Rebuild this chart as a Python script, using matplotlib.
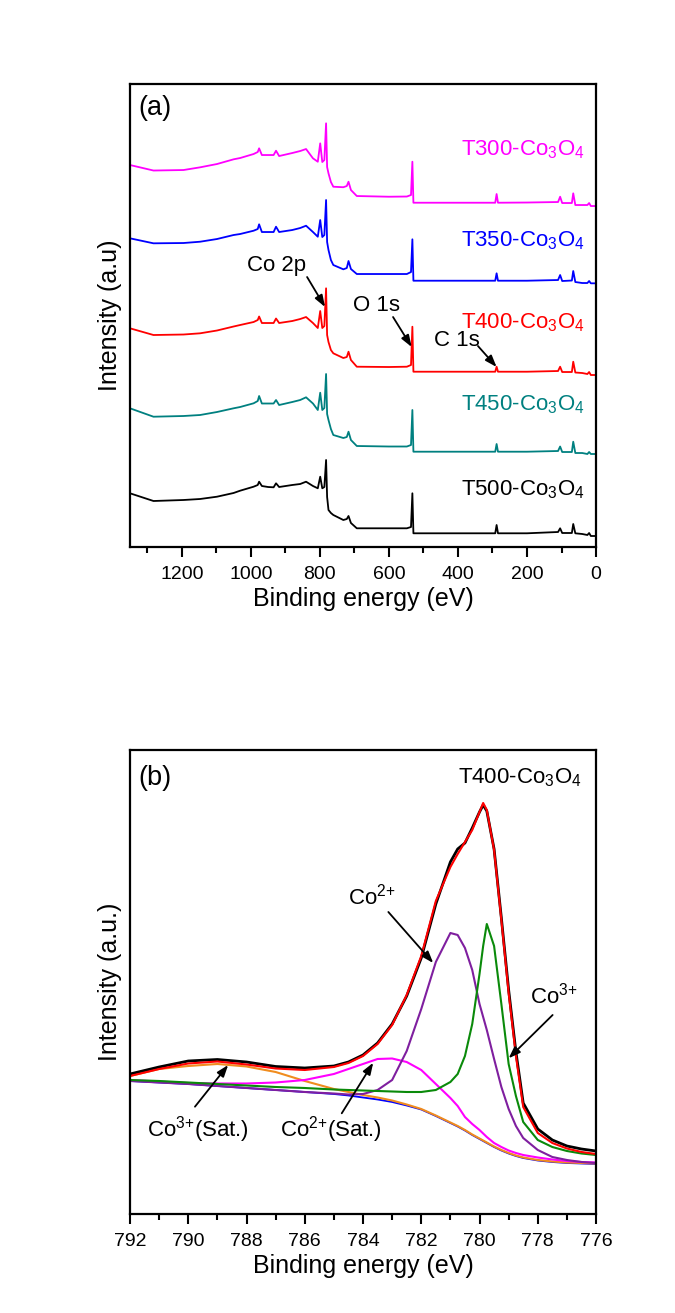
import numpy as np
import matplotlib
matplotlib.use('Agg')
import matplotlib.pyplot as plt
from matplotlib.ticker import MultipleLocator

plt.rcParams['font.family'] = ['Liberation Sans', 'DejaVu Sans']
plt.rcParams['mathtext.fontset'] = 'custom'
plt.rcParams['mathtext.rm'] = 'Liberation Sans'
plt.rcParams['mathtext.it'] = 'Liberation Sans:italic'
plt.rcParams['mathtext.bf'] = 'Liberation Sans:bold'

# ---- (a) survey spectra, binding energy (eV) and intensity (offset, a.u.)
survey_be = [1350, 1282, 1195, 1147, 1098, 1050, 1031, 992, 980, 976, 968, 950, 934, 927, 918,
             880, 857, 840, 820, 806, 799, 793, 787, 782, 779, 775, 768, 761, 732, 722, 717,
             710, 693, 600, 548, 536, 532, 529, 400, 292, 288, 284, 200, 110, 104, 98, 70, 66,
             60, 40, 25, 20, 15, 0]
t300 = [382, 376.5, 377, 379.7, 383, 387.7, 389, 393, 395, 398.7, 392, 392, 392, 396.3, 391,
        394, 396, 398, 388.7, 385.3, 403.7, 385, 387, 423.7, 380, 373.7, 365, 360.3, 359.8, 361,
        365.3, 357, 351, 350.3, 350.5, 352, 385.3, 344.3, 344.3, 344.3, 353, 344.3, 344.5, 345,
        350.3, 344, 344, 353.7, 342, 342, 342, 344, 341, 341]
t350 = [308.7, 303.7, 304, 305.3, 308, 312, 313, 316.3, 318, 322.7, 315, 315, 315, 320.3, 315,
        317, 319, 321.3, 315, 310.3, 327, 310, 312, 347, 305, 297, 287, 282, 277.7, 279,
        286, 278, 273, 273, 273, 275, 307.7, 266.3, 266.3, 266.3, 273.7, 266.3, 266.3, 267,
        272, 266, 266.5, 276, 265, 264, 264, 266, 263.7, 263.7]
t400 = [218.7, 212, 212.5, 213.7, 216.5, 220.5, 222, 225, 227, 230.5, 224, 224, 224, 228.5, 224,
        226, 228, 230, 224, 219, 236, 219, 221, 258.7, 212, 205, 197, 193.7, 189, 190,
        195.3, 187, 180.3, 180, 180.3, 182, 220.3, 175.3, 175.3, 175.3, 180.3, 175.3, 175.3, 176,
        180.3, 175, 175, 185.3, 174.5, 174, 173, 175, 172, 172]
t450 = [138.7, 130.3, 131, 132, 135, 138.7, 140, 143.7, 146, 151, 143.5, 143.5, 143.5, 147, 142,
        145, 147, 149.7, 143.5, 137, 154.3, 137, 139, 173, 133, 127, 118, 112, 109, 110,
        115.3, 107, 101, 100.5, 100.5, 102, 137, 95.3, 95.3, 95.3, 103, 95.3, 95.3, 96,
        100.5, 95, 95, 105.3, 94, 94, 93, 95, 93, 93]
t500 = [53.7, 46, 47, 48, 50.3, 54, 56.3, 60.3, 62, 65.3, 61, 60, 59.7, 63.7, 60,
        62, 63, 65.3, 61, 58.7, 70.3, 58.7, 60, 87, 50, 37, 34, 32, 27, 28,
        31, 24, 18.7, 18.7, 18.7, 20, 53.7, 13.7, 13.7, 13.7, 22, 13.7, 13.7, 15,
        18.7, 14, 14, 23, 13.7, 13, 12, 14, 11, 11]
survey_names = ['T300-Co$_3$O$_4$', 'T350-Co$_3$O$_4$', 'T400-Co$_3$O$_4$',
                'T450-Co$_3$O$_4$', 'T500-Co$_3$O$_4$']
survey_label_y = [392, 301, 219, 137, 52]

# ---- (b) Co 2p3/2 fit of T400
co2p_be = [792, 791, 790, 789, 788, 787, 786, 785, 784.5, 784, 783.5, 783, 782.5, 782, 781.5,
           781, 780.75, 780.5, 780.25, 780, 779.875, 779.75, 779.5, 779.25, 779, 778.75,
           778.5, 778, 777.5, 777, 776.5, 776]
co2p_raw = [140, 147, 153, 154.5, 152, 147.5, 146, 148, 152, 159, 171, 190, 218, 256, 310,
            352, 365, 371, 386, 402, 409, 403, 365, 296, 224, 162, 111, 85, 74, 68, 65, 63]
co2p_fit = [138, 145, 150.5, 152.5, 149.5, 145.5, 144, 147, 151, 158, 170, 189, 219, 258, 313,
            347, 360, 372, 384, 402, 411, 404, 364, 294, 221, 158, 107, 81, 71, 65.5, 62, 60]
co2p_co2 = [133, 131.5, 130, 128, 126, 124, 122, 120.5, 119.5, 120, 124, 134, 163, 205, 252,
            281, 279, 266, 244, 210, 197, 184, 155, 127, 105, 88, 76, 64, 57, 54, 52, 51]
co2p_co3 = [134, 133, 131.5, 130, 128.5, 127, 126, 124.5, 124, 123.5, 123, 122.5, 122, 122, 124,
            132, 140, 158, 190, 240, 268, 290, 268, 210, 150, 118, 92, 74, 67, 63, 60.5, 59]
co2p_sat2 = [134, 132.5, 131, 130.5, 130.5, 131.5, 134, 140, 145, 150, 155, 155.5, 152, 144, 130,
             116, 108, 97, 90, 84, 80.5, 77, 71, 67, 63.5, 61, 59, 56.5, 54.5, 53, 52, 51.5]
co2p_sat3 = [138, 145, 148, 150, 147.5, 142, 133, 125, 122, 119, 116.5, 113.5, 109.5, 105, 98.5,
             91.5, 88, 84, 79.5, 75.5, 73.5, 71.5, 67.5, 64, 61, 58.5, 56.5, 54, 52.5, 51.5, 51, 50.5]
co2p_bg = [133, 131.5, 130, 128, 126, 124, 122, 120, 118.5, 116.5, 114.5, 112, 108.5, 104.5, 98,
           91, 87.5, 83.5, 79, 75, 73, 71, 67, 63.5, 60.5, 58, 56, 53.5, 52, 51, 50.5, 50]

arrow = dict(arrowstyle='-|>,head_length=0.7,head_width=0.25', color='k', lw=1.3,
             shrinkA=0, shrinkB=0)


def style_axes(ax, major, minor):
    for s in ax.spines.values():
        s.set_linewidth(1.6)
    ax.xaxis.set_major_locator(MultipleLocator(major))
    ax.xaxis.set_minor_locator(MultipleLocator(minor))
    ax.tick_params(axis='x', which='major', direction='out', length=7.2, width=1.5,
                   labelsize=14, pad=6.2)
    ax.tick_params(axis='x', which='minor', direction='out', length=4.2, width=1.5)
    ax.set_yticks([])


fig = plt.figure(figsize=(6.75, 13.13), dpi=100)

# panel (a)
ax1 = fig.add_axes([0.1926, 0.5834, 0.6904, 0.3526])
colors_a = ['#FF00FF', '#0000FF', '#FF0000', '#008080', '#000000']
for yv, c in zip([t300, t350, t400, t450, t500], colors_a):
    ax1.plot(survey_be, yv, color=c, lw=1.3)
for name, yl, c in zip(survey_names, survey_label_y, colors_a):
    ax1.text(32, yl, name, color=c, fontsize=16, ha='right', va='baseline')
ax1.set_xlim(1350, 0)
ax1.set_ylim(0, 463)
style_axes(ax1, 200, 100)
ax1.set_xlabel('Binding energy (eV)', fontsize=18, labelpad=3)
ax1.set_ylabel('Intensity (a.u)', fontsize=18, labelpad=6)
ax1.text(0.017, 0.948, '(a)', transform=ax1.transAxes, fontsize=19.5, va='center')
ax1.text(924, 282, 'Co 2p', fontsize=16, ha='center', va='center')
ax1.annotate('', xy=(785, 240), xytext=(837, 270), arrowprops=arrow)
ax1.text(637, 242, 'O 1s', fontsize=16, ha='center', va='center')
ax1.annotate('', xy=(534, 200), xytext=(588, 230), arrowprops=arrow)
ax1.text(403, 207, 'C 1s', fontsize=16, ha='center', va='center')
ax1.annotate('', xy=(288, 180), xytext=(342, 201), arrowprops=arrow)

# panel (b)
ax2 = fig.add_axes([0.1926, 0.0754, 0.6904, 0.3534])
ax2.plot(co2p_be, co2p_bg, color='#0000FF', lw=1.3)
ax2.plot(co2p_be, co2p_sat3, color='#F08C1E', lw=1.5)
ax2.plot(co2p_be, co2p_sat2, color='#FF00FF', lw=1.5)
ax2.plot(co2p_be, co2p_co2, color='#7F1F9F', lw=1.5)
ax2.plot(co2p_be, co2p_co3, color='#0A8A0A', lw=1.5)
ax2.plot(co2p_be, co2p_raw, color='#000000', lw=2.0)
ax2.plot(co2p_be, co2p_fit, color='#FF0000', lw=1.5)
ax2.set_xlim(792, 776)
ax2.set_ylim(0, 464)
style_axes(ax2, 2, 1)
ax2.set_xlabel('Binding energy (eV)', fontsize=18, labelpad=3)
ax2.set_ylabel('Intensity (a.u.)', fontsize=18, labelpad=6)
ax2.text(0.019, 0.94, '(b)', transform=ax2.transAxes, fontsize=19.5, va='center')
ax2.text(776.48, 431, 'T400-Co$_3$O$_4$', fontsize=16, ha='right', va='baseline')
ax2.text(784.51, 309, 'Co$^{2{+}}$', fontsize=16, ha='left', va='baseline')
ax2.annotate('', xy=(781.59, 251), xytext=(783.13, 302), arrowprops=arrow)
ax2.text(778.27, 210, 'Co$^{3{+}}$', fontsize=16, ha='left', va='baseline')
ax2.annotate('', xy=(779.0, 155.7), xytext=(777.49, 199), arrowprops=arrow)
ax2.text(791.43, 77.3, 'Co$^{3{+}}$(Sat.)', fontsize=16, ha='left', va='baseline')
ax2.annotate('', xy=(788.63, 149), xytext=(789.77, 107.3), arrowprops=arrow)
ax2.text(786.85, 77.3, 'Co$^{2{+}}$(Sat.)', fontsize=16, ha='left', va='baseline')
ax2.annotate('', xy=(783.65, 151.3), xytext=(784.73, 100.7), arrowprops=arrow)

plt.savefig('out.png', dpi=100, facecolor='white')
